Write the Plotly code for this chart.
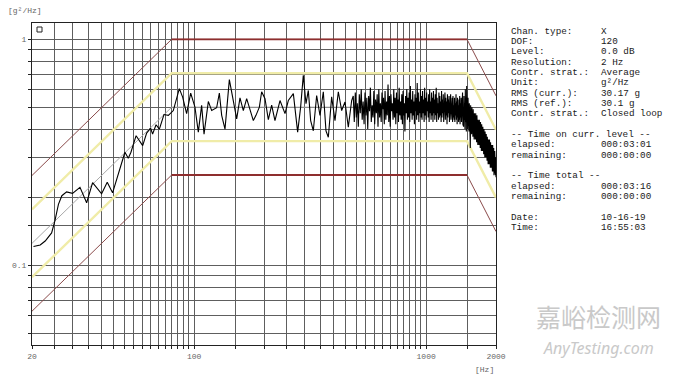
import math
import plotly.graph_objects as go

# ---------------- data ----------------
# measured control PSD, low / mid frequency part (read point by point)
meas_freq_lo = [20.3, 21.7, 22.8, 24.3, 25.1, 26.0, 26.9, 28.2, 29.9, 32.2, 34.4, 36.5, 39.9, 42.2,
                44.5, 47.6, 50.3, 52.0, 53.4, 56.2, 60.0, 62.4, 64.9, 66.2, 68.5, 70.8, 74.1, 77.4,
                81.3, 86.3, 89.2, 92.8, 96.6, 100.8, 104.2, 107.7, 110.3, 115.1, 119.0, 125.0, 128.4,
                131.4, 135.8, 141.8, 147.5, 152.5, 157.6, 162.9, 168.4, 174.1, 179.9, 184.7, 191.0,
                195.4, 202.0, 208.8, 215.8, 223.0, 234.4, 246.4, 254.6, 267.6, 279.3, 287.7, 295.4,
                303.4, 310.5, 317.8, 326.3, 337.3, 348.6, 360.3, 370.0, 378.7, 391.4, 404.6, 418.2,
                432.3, 446.8, 461.8, 477.4]
meas_psd_lo = [0.121, 0.123, 0.128, 0.139, 0.157, 0.186, 0.203, 0.211, 0.208, 0.221, 0.189, 0.232,
               0.207, 0.233, 0.209, 0.266, 0.316, 0.297, 0.316, 0.374, 0.338, 0.384, 0.404, 0.380,
               0.418, 0.400, 0.464, 0.460, 0.483, 0.604, 0.554, 0.468, 0.577, 0.500, 0.388, 0.509,
               0.380, 0.530, 0.483, 0.497, 0.577, 0.460, 0.400, 0.662, 0.535, 0.444, 0.550, 0.483,
               0.545, 0.483, 0.436, 0.460, 0.500, 0.585, 0.545, 0.440, 0.510, 0.436, 0.535, 0.468,
               0.535, 0.574, 0.388, 0.500, 0.692, 0.518, 0.593, 0.436, 0.393, 0.563, 0.460, 0.585,
               0.393, 0.368, 0.555, 0.436, 0.585, 0.483, 0.527, 0.408, 0.535]

# dense part, 2 Hz analysis shown every 5 Hz from 485 Hz to 2000 Hz
dense_start_hz = 485
dense_step_hz = 5
meas_psd_dense = [
    0.56, 0.43, 0.58, 0.45, 0.52, 0.41, 0.57, 0.47, 0.60, 0.44, 0.53, 0.42,
    0.58, 0.46, 0.55, 0.40, 0.56, 0.48, 0.61, 0.43, 0.51, 0.45, 0.59, 0.42,
    0.54, 0.47, 0.57, 0.41, 0.60, 0.45, 0.52, 0.43, 0.58, 0.49, 0.55, 0.42,
    0.59, 0.44, 0.53, 0.46, 0.63, 0.43, 0.56, 0.41, 0.57, 0.48, 0.52, 0.44,
    0.60, 0.45, 0.55, 0.42, 0.58, 0.47, 0.54, 0.43, 0.61, 0.46, 0.53, 0.44,
    0.57, 0.42, 0.59, 0.46, 0.52, 0.39, 0.56, 0.47, 0.60, 0.44, 0.55, 0.45,
    0.58, 0.43, 0.62, 0.47, 0.54, 0.44, 0.59, 0.46, 0.53, 0.42, 0.57, 0.48,
    0.55, 0.44, 0.64, 0.46, 0.58, 0.43, 0.53, 0.47, 0.60, 0.45, 0.56, 0.44,
    0.59, 0.47, 0.54, 0.43, 0.61, 0.46, 0.55, 0.44, 0.58, 0.48, 0.53, 0.45,
    0.57, 0.43, 0.60, 0.47, 0.53, 0.44, 0.58, 0.46, 0.55, 0.43, 0.59, 0.47,
    0.54, 0.44, 0.57, 0.46, 0.61, 0.43, 0.55, 0.47, 0.52, 0.44, 0.58, 0.45,
    0.56, 0.46, 0.53, 0.43, 0.59, 0.45, 0.54, 0.47, 0.57, 0.43, 0.52, 0.46,
    0.58, 0.44, 0.55, 0.46, 0.53, 0.42, 0.57, 0.45, 0.54, 0.47, 0.56, 0.43,
    0.53, 0.45, 0.57, 0.44, 0.52, 0.46, 0.55, 0.43, 0.56, 0.45, 0.51, 0.44,
    0.55, 0.43, 0.52, 0.46, 0.57, 0.44, 0.53, 0.42, 0.55, 0.45, 0.51, 0.43,
    0.54, 0.44, 0.56, 0.42, 0.52, 0.45, 0.55, 0.43, 0.53, 0.44, 0.58, 0.42,
    0.54, 0.41, 0.56, 0.44, 0.52, 0.40, 0.60, 0.43, 0.55, 0.39, 0.62, 0.42,
    0.53, 0.40, 0.55, 0.42, 0.50, 0.39, 0.52, 0.41, 0.49, 0.33, 0.51, 0.40,
    0.48, 0.38, 0.50, 0.40, 0.47, 0.37, 0.49, 0.39, 0.46, 0.36, 0.47, 0.38,
    0.45, 0.36, 0.47, 0.37, 0.44, 0.35, 0.46, 0.36, 0.43, 0.34, 0.44, 0.35,
    0.42, 0.34, 0.44, 0.35, 0.41, 0.33, 0.43, 0.34, 0.40, 0.32, 0.42, 0.33,
    0.40, 0.32, 0.41, 0.33, 0.39, 0.31, 0.40, 0.32, 0.38, 0.30, 0.39, 0.31,
    0.37, 0.30, 0.38, 0.31, 0.36, 0.29, 0.37, 0.30, 0.35, 0.28, 0.36, 0.29,
    0.35, 0.28, 0.36, 0.29, 0.34, 0.27, 0.35, 0.28, 0.33, 0.27, 0.34, 0.26,
    0.33, 0.26, 0.34, 0.27, 0.32, 0.26, 0.33, 0.25, 0.31, 0.26, 0.32, 0.25,
    0.31, 0.25, 0.30, 0.245,
]

# reference profile breakpoints
ref_freq = [20, 80, 1500, 2000]
ref_psd = [0.125, 0.5, 0.5, 0.28125]
warn_factor = 1.4125   # +/- 1.5 dB
abort_factor = 1.9953  # +/- 3 dB

x_grid = [20, 25, 30, 35, 40, 45, 50, 55, 60, 65, 70, 75, 80, 85, 90, 95, 100,
          150, 200, 250, 300, 350, 400, 450, 500, 550, 600, 650, 700, 750, 800, 850, 900, 950,
          1000, 1500, 2000]
x_labels = {20: "20", 100: "100", 1000: "1000", 2000: "2000"}
y_grid = [0.05, 0.06, 0.07, 0.08, 0.09, 0.1, 0.15, 0.2, 0.3, 0.4, 0.5, 0.6, 0.7, 0.8, 0.9, 1]
y_labels = {0.1: "0.1", 1: "1"}

info_rows = [
    ("Chan. type:", "X"), ("DOF:", "120"), ("Level:", "0.0 dB"), ("Resolution:", "2 Hz"),
    ("Contr. strat.:", "Average"), ("Unit:", "g²/Hz"), ("RMS (curr.):", "30.17 g"),
    ("RMS (ref.):", "30.1 g"), ("Contr. strat.:", "Closed loop"), ("", ""),
    ("-- Time on curr. level --", ""), ("elapsed:", "000:03:01"), ("remaining:", "000:00:00"),
    ("", ""), ("-- Time total --", ""), ("elapsed:", "000:03:16"), ("remaining:", "000:00:00"),
    ("", ""), ("Date:", "10-16-19"), ("Time:", "16:55:03"),
]

# ---------------- figure ----------------
W, H = 680, 382
L, R, T, B = 32, 496, 23, 345

meas_freq = meas_freq_lo + [dense_start_hz + dense_step_hz * i for i in range(len(meas_psd_dense))]
meas_psd = meas_psd_lo + meas_psd_dense

fig = go.Figure()

red = "#8e2e2e"
red_slope = "#8a4a4a"
yellow = "#f0eca8"
fig.add_trace(go.Scatter(x=ref_freq, y=[v * warn_factor for v in ref_psd], mode="lines",
                         line=dict(color=yellow, width=2.4), hoverinfo="skip"))
fig.add_trace(go.Scatter(x=ref_freq, y=[v / warn_factor for v in ref_psd], mode="lines",
                         line=dict(color=yellow, width=2.4), hoverinfo="skip"))
fig.add_trace(go.Scatter(x=ref_freq, y=[v * abort_factor for v in ref_psd], mode="lines",
                         line=dict(color=red_slope, width=1.0), hoverinfo="skip"))
fig.add_trace(go.Scatter(x=ref_freq, y=[v / abort_factor for v in ref_psd], mode="lines",
                         line=dict(color=red_slope, width=1.0), hoverinfo="skip"))
# flat part of the abort lines is drawn a bit heavier in the reference
fig.add_trace(go.Scatter(x=ref_freq[1:3], y=[v * abort_factor for v in ref_psd[1:3]], mode="lines",
                         line=dict(color=red, width=1.8), hoverinfo="skip"))
fig.add_trace(go.Scatter(x=ref_freq[1:3], y=[v / abort_factor for v in ref_psd[1:3]], mode="lines",
                         line=dict(color=red, width=1.8), hoverinfo="skip"))
fig.add_trace(go.Scatter(x=ref_freq, y=ref_psd, mode="lines",
                         line=dict(color="#a8a8a8", width=1), hoverinfo="skip"))
fig.add_trace(go.Scatter(x=meas_freq, y=meas_psd, mode="lines",
                         line=dict(color="#000000", width=1.1)))

tick_font = dict(family="Liberation Mono", size=8, color="#666666")
fig.update_xaxes(type="log", range=[math.log10(20), math.log10(2000)],
                 tickmode="array", tickvals=x_grid,
                 ticktext=[x_labels.get(v, "") for v in x_grid],
                 showgrid=True, gridcolor="#5e5e5e", gridwidth=1,
                 showline=True, linecolor="#222222", linewidth=1, mirror=True,
                 ticks="outside", ticklen=3, tickcolor="#222222", tickfont=tick_font,
                 zeroline=False)
fig.update_yaxes(type="log", range=[math.log10(0.0444), math.log10(1.178)],
                 tickmode="array", tickvals=y_grid,
                 ticktext=[y_labels.get(v, "") for v in y_grid],
                 showgrid=True, gridcolor="#5e5e5e", gridwidth=1,
                 showline=True, linecolor="#222222", linewidth=1, mirror=True,
                 ticks="outside", ticklen=3, tickcolor="#222222", tickfont=tick_font,
                 zeroline=False)


def px(x):
    return (x - L) / (R - L)


def py(y):
    return (B - y) / (B - T)


ann = []
mono = "Liberation Mono"
ann.append(dict(x=px(6), y=py(11), text="[g²/Hz]", xanchor="left", yanchor="middle",
                font=dict(family=mono, size=8, color="#666666")))
ann.append(dict(x=px(496), y=py(369), text="[Hz]", xanchor="right", yanchor="middle",
                font=dict(family=mono, size=8, color="#666666")))

line_h = 10.35
for i, (lab, val) in enumerate(info_rows):
    yy = 31 + line_h * i
    if lab:
        ann.append(dict(x=px(509), y=py(yy), text=lab, xanchor="left", yanchor="middle",
                        font=dict(family=mono, size=9.3, color="#1a1a1a")))
    if val:
        ann.append(dict(x=px(599), y=py(yy), text=val, xanchor="left", yanchor="middle",
                        font=dict(family=mono, size=9.3, color="#1a1a1a")))

ann.append(dict(x=px(598), y=py(316), text="嘉峪检测网", xanchor="center", yanchor="middle",
                font=dict(family="Noto Sans CJK SC", size=25, color="#c9c9c9")))
ann.append(dict(x=px(598), y=py(348), text="<i>AnyTesting.com</i>", xanchor="center",
                yanchor="middle", font=dict(family="Noto Sans", size=16, color="#c9c9c9")))

for a in ann:
    a.update(xref="paper", yref="paper", showarrow=False)

fig.update_layout(
    width=W, height=H,
    margin=dict(l=L, r=W - R, t=T, b=H - B),
    paper_bgcolor="white", plot_bgcolor="white",
    showlegend=False,
    annotations=ann,
    shapes=[dict(type="rect", xref="paper", yref="paper",
                 x0=px(37), x1=px(42), y0=py(32), y1=py(27),
                 line=dict(color="#222222", width=1), fillcolor="white")],
)

fig.write_html("out.html")
